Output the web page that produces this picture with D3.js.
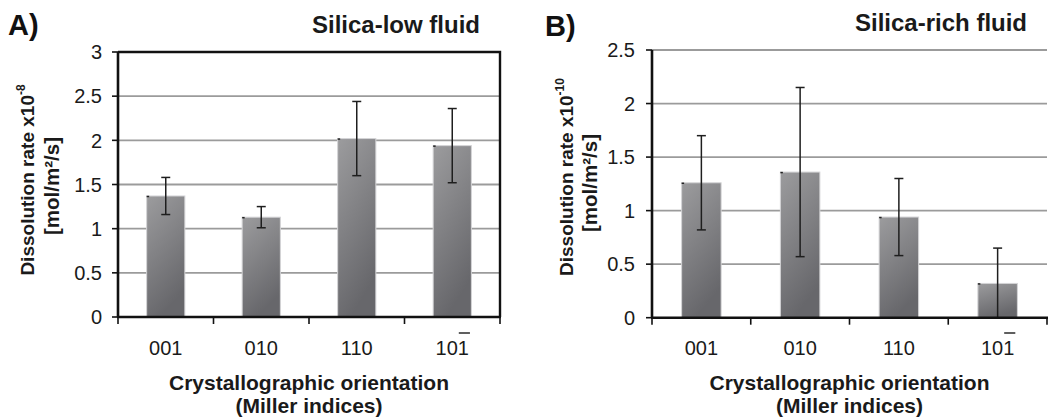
<!DOCTYPE html>
<html>
<head>
<meta charset="utf-8">
<script src="https://cdn.jsdelivr.net/npm/d3@7/dist/d3.min.js"></script>
<style>
  html, body { margin: 0; padding: 0; background: #fff; }
  svg { display: block; font-family: "Liberation Sans", Arial, Helvetica, sans-serif; }
</style>
</head>
<body>
<svg id="chart" width="1049" height="418"></svg>
<script>
// Crystal faces (Miller indices); the last one carries a bar over its final digit
const orientations = ["001", "010", "110", "101"];
const overlinedLastDigit = [false, false, false, true];

// Dissolution rates in silica-low fluid (x10^-8 mol/m²/s) with standard deviations
const silicaLowRates = [1.37, 1.13, 2.02, 1.94];
const silicaLowErrors = [0.21, 0.12, 0.42, 0.42];

// Dissolution rates in silica-rich fluid (x10^-10 mol/m²/s) with standard deviations
const silicaRichRates = [1.26, 1.36, 0.94, 0.32];
const silicaRichErrors = [0.44, 0.79, 0.36, 0.33];

const silicaLowTicks = [0, 0.5, 1, 1.5, 2, 2.5, 3];
const silicaRichTicks = [0, 0.5, 1, 1.5, 2, 2.5];

const svg = d3.select("#chart");

// Bar fill: light grey at the top fading into a darker grey
const defs = svg.append("defs");
const grad = defs.append("linearGradient")
  .attr("id", "barFill")
  .attr("x1", "0").attr("y1", "0").attr("x2", "0.35").attr("y2", "1");
grad.append("stop").attr("offset", "0%").attr("stop-color", "#9c9c9e");
grad.append("stop").attr("offset", "100%").attr("stop-color", "#67676b");

const panels = [
  {
    letter: "A)", title: "Silica-low fluid", exponent: "-8",
    rates: silicaLowRates, errors: silicaLowErrors, ticks: silicaLowTicks,
    xRange: [118, 500], yRange: [317, 52],
    boxed: true,
    letterPos: [8, 35], titlePos: [312, 33],
    yTitleX: [34, 59], yTitleY: [180, 186],
    tickLabelGap: 16
  },
  {
    letter: "B)", title: "Silica-rich fluid", exponent: "-10",
    rates: silicaRichRates, errors: silicaRichErrors, ticks: silicaRichTicks,
    xRange: [652, 1047], yRange: [317.7, 50],
    boxed: false,
    letterPos: [545, 36], titlePos: [855, 31],
    yTitleX: [573, 597], yTitleY: [177, 183],
    tickLabelGap: 17
  }
];

panels.forEach(p => {
  const g = svg.append("g");
  const yMax = p.ticks[p.ticks.length - 1];

  const x = d3.scaleBand()
    .domain(orientations)
    .range(p.xRange)
    .paddingInner(0.6)
    .paddingOuter(0.3);
  const y = d3.scaleLinear().domain([0, yMax]).range(p.yRange);

  const [x0, x1] = p.xRange;
  const step = x.step();
  const boundaries = d3.range(orientations.length + 1).map(i => x0 + i * step);

  // Horizontal gridlines
  g.append("g").selectAll("line")
    .data(p.ticks.filter(t => t > 0 && (!p.boxed || t < yMax)))
    .join("line")
    .attr("x1", x0).attr("x2", x1)
    .attr("y1", d => y(d)).attr("y2", d => y(d))
    .attr("stroke", "#9b9b9b").attr("stroke-width", 1.8);

  // Bars
  const bars = g.append("g");
  bars.selectAll("rect")
    .data(p.rates)
    .join("rect")
    .attr("x", (d, i) => x(orientations[i]))
    .attr("y", d => y(d))
    .attr("width", x.bandwidth())
    .attr("height", d => y(0) - y(d))
    .attr("fill", "url(#barFill)")
    .attr("stroke", "#d4d4d6").attr("stroke-width", 1);
  // small dark notch at the upper-left corner of each bar
  bars.selectAll("line.notch")
    .data(p.rates)
    .join("line")
    .attr("class", "notch")
    .attr("x1", (d, i) => x(orientations[i]))
    .attr("x2", (d, i) => x(orientations[i]) + 2.5)
    .attr("y1", d => y(d) + 0.5).attr("y2", d => y(d) + 0.5)
    .attr("stroke", "#222").attr("stroke-width", 1.5);

  // Error bars (lower whisker stops at zero)
  const eb = g.append("g").attr("stroke", "#1e1e1e");
  p.rates.forEach((v, i) => {
    const cx = x(orientations[i]) + x.bandwidth() / 2;
    const hi = v + p.errors[i];
    const lo = Math.max(0, v - p.errors[i]);
    eb.append("line").attr("x1", cx).attr("x2", cx)
      .attr("y1", y(hi)).attr("y2", y(lo)).attr("stroke-width", 1.5);
    eb.append("line").attr("x1", cx - 4.5).attr("x2", cx + 4.5)
      .attr("y1", y(hi)).attr("y2", y(hi)).attr("stroke-width", 1.5);
    if (lo > 0) {
      eb.append("line").attr("x1", cx - 4.5).attr("x2", cx + 4.5)
        .attr("y1", y(lo)).attr("y2", y(lo)).attr("stroke-width", 1.5);
    }
  });

  // Frame: black top and right edge for the boxed panel
  if (p.boxed) {
    g.append("path")
      .attr("d", `M${x0},${y(yMax)}H${x1}V${y(0)}`)
      .attr("fill", "none").attr("stroke", "#111").attr("stroke-width", 2.4);
  } else {
    g.append("line")
      .attr("x1", x0).attr("x2", x1)
      .attr("y1", y(yMax)).attr("y2", y(yMax))
      .attr("stroke", "#9b9b9b").attr("stroke-width", 1.8);
  }

  // Y axis
  const yAxis = g.append("g");
  yAxis.append("line")
    .attr("x1", x0).attr("x2", x0)
    .attr("y1", y(yMax)).attr("y2", y(0))
    .attr("stroke", "#111").attr("stroke-width", 2.6);
  yAxis.selectAll("line.tick")
    .data(p.ticks)
    .join("line")
    .attr("class", "tick")
    .attr("x1", x0 - 6).attr("x2", x0)
    .attr("y1", d => y(d)).attr("y2", d => y(d))
    .attr("stroke", "#111").attr("stroke-width", 1.6);
  yAxis.selectAll("text")
    .data(p.ticks)
    .join("text")
    .attr("x", x0 - p.tickLabelGap)
    .attr("y", d => y(d))
    .attr("dy", "0.36em")
    .attr("text-anchor", "end")
    .attr("font-size", 20)
    .attr("fill", "#1a1a1a")
    .text(d => d3.format("~g")(d));

  // X axis
  const xAxis = g.append("g");
  xAxis.append("line")
    .attr("x1", x0 - 1).attr("x2", x1 + 1)
    .attr("y1", y(0)).attr("y2", y(0))
    .attr("stroke", "#111").attr("stroke-width", 2.6);
  xAxis.selectAll("line.tick")
    .data(boundaries)
    .join("line")
    .attr("class", "tick")
    .attr("x1", d => d).attr("x2", d => d)
    .attr("y1", y(0)).attr("y2", y(0) + 7)
    .attr("stroke", "#111").attr("stroke-width", 1.6);
  const labelBaseline = 355;
  const labels = xAxis.selectAll("text")
    .data(orientations)
    .join("text")
    .attr("x", d => x(d) + x.bandwidth() / 2)
    .attr("y", labelBaseline)
    .attr("text-anchor", "middle")
    .attr("font-size", 20)
    .attr("fill", "#1a1a1a")
    .text(d => d);
  // bar over the final digit of the negative index
  labels.each(function (d, i) {
    if (!overlinedLastDigit[i]) return;
    const n = d.length;
    const start = this.getStartPositionOfChar(n - 1);
    const w = this.getSubStringLength(n - 1, 1);
    const oy = labelBaseline - 22;
    xAxis.append("line")
      .attr("x1", start.x + 1).attr("x2", start.x + w + 1)
      .attr("y1", oy).attr("y2", oy)
      .attr("stroke", "#1a1a1a").attr("stroke-width", 1.4);
  });

  const xc = (x0 + x1) / 2;
  g.append("text")
    .attr("x", xc).attr("y", 390)
    .attr("text-anchor", "middle")
    .attr("font-size", 21).attr("font-weight", "bold").attr("fill", "#1a1a1a")
    .text("Crystallographic orientation");
  g.append("text")
    .attr("x", xc).attr("y", 413)
    .attr("text-anchor", "middle")
    .attr("font-size", 21).attr("font-weight", "bold").attr("fill", "#1a1a1a")
    .text("(Miller indices)");

  // Y axis title, two lines
  const t1 = g.append("text")
    .attr("transform", `translate(${p.yTitleX[0]},${p.yTitleY[0]}) rotate(-90)`)
    .attr("text-anchor", "middle")
    .attr("font-size", 19).attr("font-weight", "bold").attr("fill", "#1a1a1a");
  t1.append("tspan").text("Dissolution rate x10");
  t1.append("tspan").attr("font-size", 12).attr("dy", -9).text(p.exponent);
  g.append("text")
    .attr("transform", `translate(${p.yTitleX[1]},${p.yTitleY[1]}) rotate(-90)`)
    .attr("text-anchor", "middle")
    .attr("font-size", 20.5).attr("font-weight", "bold").attr("fill", "#1a1a1a")
    .text("[mol/m²/s]");

  // Panel letter and title
  g.append("text")
    .attr("x", p.letterPos[0]).attr("y", p.letterPos[1])
    .attr("font-size", 29).attr("font-weight", "bold").attr("fill", "#111")
    .text(p.letter);
  g.append("text")
    .attr("x", p.titlePos[0]).attr("y", p.titlePos[1])
    .attr("font-size", 24).attr("font-weight", "bold").attr("fill", "#1a1a1a")
    .text(p.title);
});
</script>
</body>
</html>
